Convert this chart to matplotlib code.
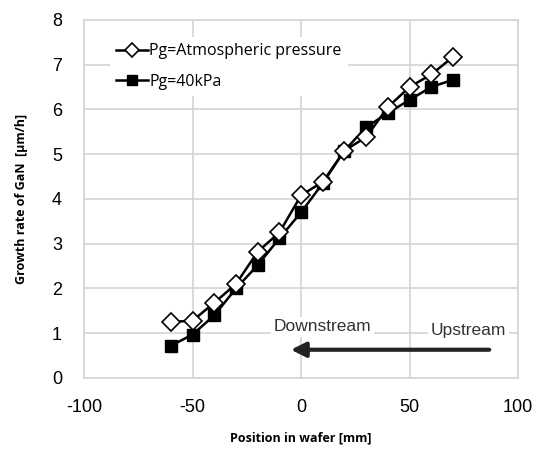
import numpy as np
import matplotlib
matplotlib.use("Agg")
import matplotlib.pyplot as plt

plt.rcParams['axes.unicode_minus'] = False

# data
position = [-60, -50, -40, -30, -20, -10, 0, 10, 20, 30, 40, 50, 60, 70]
rate_atm = [1.25, 1.28, 1.68, 2.1, 2.82, 3.25, 4.08, 4.38, 5.08, 5.38, 6.05, 6.5, 6.78, 7.17]
rate_40k = [0.72, 0.97, 1.4, 2.0, 2.52, 3.12, 3.7, 4.35, 5.08, 5.6, 5.92, 6.21, 6.5, 6.66]

x_ticks = [-100, -50, 0, 50, 100]
y_ticks = [0, 1, 2, 3, 4, 5, 6, 7, 8]

fig = plt.figure(figsize=(5.43, 4.51), dpi=100)
ax = fig.add_axes([0.155, 0.162, 0.799, 0.794])

ax.plot(position, rate_atm, color='black', lw=1.8, marker='D', ms=9,
        mfc='white', mec='black', mew=1.2, label='Pg=Atmospheric pressure', zorder=4)
ax.plot(position, rate_40k, color='black', lw=1.8, marker='s', ms=9,
        mfc='black', mec='black', label='Pg=40kPa', zorder=3)

ax.set_xlim(-100, 100)
ax.set_ylim(0, 8)
ax.set_xticks(x_ticks)
ax.set_yticks(y_ticks)
ax.tick_params(length=0, labelsize=13)
ax.tick_params(axis='x', pad=15)
ax.tick_params(axis='y', pad=16)
for lab in ax.get_xticklabels() + ax.get_yticklabels():
    lab.set_family('Liberation Sans')
ax.grid(True, color='#d4d4d4', lw=1.2)
ax.set_axisbelow(True)
for s in ax.spines.values():
    s.set_color('#d4d4d4')
    s.set_linewidth(1.2)

ax.set_xlabel('Position in wafer [mm]', fontsize=9, fontweight='bold',
              family='Open Sans', labelpad=11)
ax.set_ylabel('Growth rate of GaN  [\u03bcm/h]', fontsize=9, fontweight='bold',
              family='Open Sans', labelpad=17)

leg = ax.legend(loc='upper left', bbox_to_anchor=(0.04, 0.975), frameon=True,
                fancybox=False, edgecolor='none', framealpha=1,
                prop={'family': 'Open Sans', 'size': 11.5}, handlelength=2.0,
                handletextpad=0.1, labelspacing=0.9, borderpad=0.4)
for h in leg.legend_handles:
    h.set_markersize(7)

# flow direction
ax.annotate('', xy=(-6, 0.63), xytext=(88, 0.63),
            arrowprops=dict(arrowstyle='-|>', color='#222222', lw=3,
                            mutation_scale=22))
ax.text(10, 1.14, 'Downstream', ha='center', va='center', fontsize=12.5,
        family='Liberation Sans', color='#333333',
        bbox=dict(facecolor='white', edgecolor='none', pad=2))
ax.text(77, 1.05, 'Upstream', ha='center', va='center', fontsize=12.5,
        family='Liberation Sans', color='#333333',
        bbox=dict(facecolor='white', edgecolor='none', pad=2))

fig.savefig('out.png', dpi=100)
